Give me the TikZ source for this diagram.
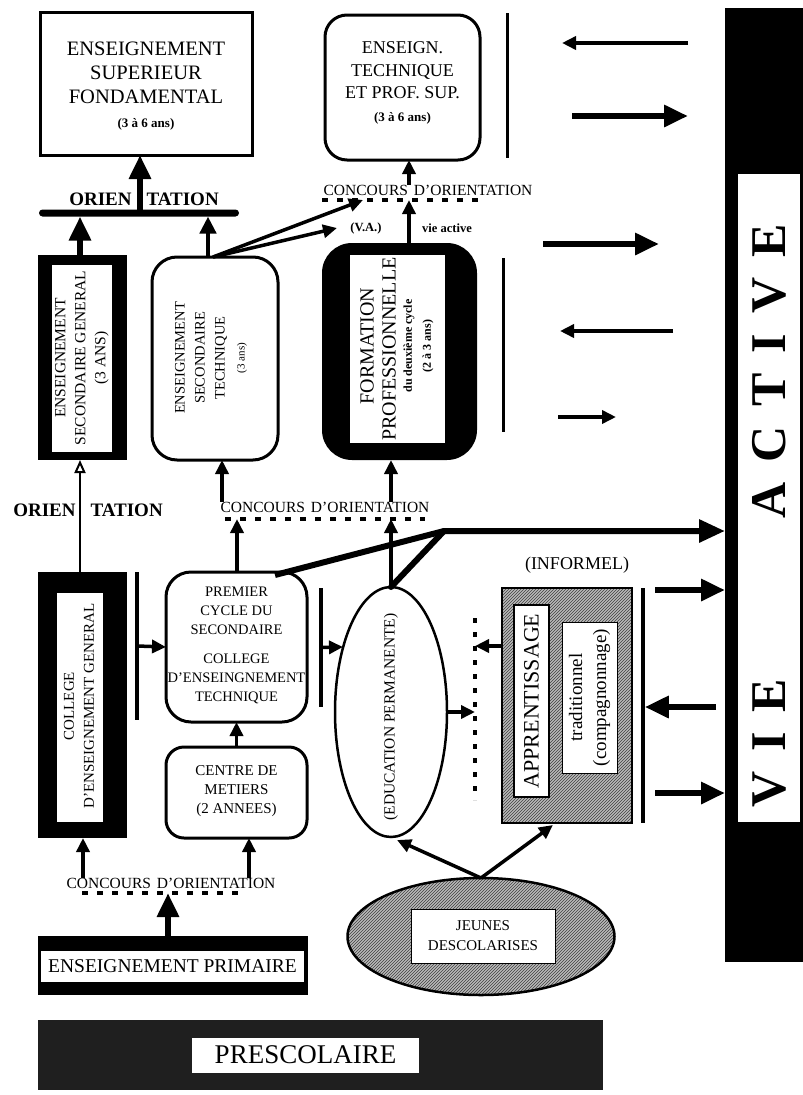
\documentclass[tikz,border=0pt]{standalone}
\usepackage{fontspec}
\setmainfont{Liberation Serif}
\usetikzlibrary{arrows.meta,shapes.geometric,patterns}
\begin{document}
\begin{tikzpicture}[x=1pt,y=-1pt,
  txt/.style={align=center,inner sep=0pt},
  sz/.style 2 args={minimum width=#1pt,minimum height=#2pt,inner sep=0pt,outer sep=0pt},
  ar/.style={line width=3.5pt,-{Triangle[length=14pt,width=13pt]}},
  mar/.style={line width=4.5pt,-{Triangle[length=17pt,width=16pt]}},
  tar/.style={line width=6.5pt,-{Triangle[length=24pt,width=21pt]}},
  oar/.style={line width=2pt,-{Triangle[open,length=13pt,width=11pt,line width=2pt]}},
  dsh/.style={line width=3.5pt,dash pattern=on 6pt off 9pt},
  vline/.style={fill=black},
  rbox/.style={draw,line width=3pt,rounded corners=#1},
  hatch/.style={preaction={fill=gray!55},pattern=north east lines,pattern color=black!75},
  big/.style={font=\fontsize{20.5}{24}\selectfont},
  mid/.style={font=\fontsize{15}{19}\selectfont},
  conc/.style={font=\fontsize{15.5}{18}\selectfont},
  orient/.style={font=\fontsize{19}{22}\selectfont\bfseries}
]
\useasboundingbox (0,0) rectangle (803,1095);
% helper x-positions
\coordinate (x80) at (80,0);
\coordinate (x83) at (83,0);
\coordinate (x140) at (140,0);
\coordinate (x168) at (168,0);
\coordinate (x208) at (208,0);
\coordinate (x222) at (222,0);
\coordinate (x237) at (237,0);
\coordinate (x249) at (249,0);
\coordinate (x391) at (391,0);
\coordinate (x409) at (409,0);

% ---------- top left box
\node[draw,line width=3pt,sz={212}{143}] (tl) at (146,83.5) {};
\node[txt,big] (tlt) at (146,86) {ENSEIGNEMENT\\SUPERIEUR\\FONDAMENTAL\\{\fontsize{13}{20}\selectfont\bfseries (3 à 6 ans)}};

% ORIENTATION bar (top)
\node[txt,orient] (or1) at (144,199) {ORIEN\hspace{15pt}TATION};
\node[vline,sz={200}{7},rounded corners=3.5pt] (ob) at (139,213) {};
\draw[tar] (ob.north -| x140) -- (tl.south -| x140);

% ---------- top centre box
\node[rbox=22pt,sz={155}{145}] (tc) at (402.5,87.5) {};
\node[txt,font=\fontsize{18}{22.5}\selectfont] (tct) at (402.5,83) {ENSEIGN.\\TECHNIQUE\\ET PROF. SUP.\\{\fontsize{13}{22}\selectfont\bfseries (3 à 6 ans)}};
\node[vline,sz={3}{145}] (vl1) at (507,85.5) {};

% concours top
\node[txt,conc] (ct) at (428,190) {CONCOURS\hspace{6pt}D'ORIENTATION};
\coordinate (cd1) at (322,200);
\coordinate (cd2) at (478,200);
\draw[dsh] (cd1) -- (cd2);
\draw[ar] (ct.north -| x409) -- (tc.south -| x409);
\node[txt,font=\fontsize{12.5}{15}\selectfont\bfseries] (vat1) at (366,228) {(V.A.)};
\node[txt,font=\fontsize{12.5}{15}\selectfont\bfseries] (vat2) at (447,228) {vie active};

% ---------- ESG
\node[vline,sz={89}{205}] (esg) at (82.5,357.5) {};
\node[fill=white,sz={60}{187}] (esgw) at (82,358.5) {};
\node[txt,rotate=90,font=\fontsize{15.5}{20}\selectfont] (esgt) at (82,358) {ENSEIGNEMENT\\SECONDAIRE GENERAL\\(3 ANS)};
\draw[tar] (esg.north -| x80) -- (ob.south -| x80);

% ---------- EST
\node[rbox=25pt,sz={126}{203}] (est) at (215,358.5) {};
\node[txt,rotate=90,font=\fontsize{14.5}{20}\selectfont] (estt) at (211,358) {ENSEIGNEMENT\\SECONDAIRE\\TECHNIQUE\\{\fontsize{11}{18}\selectfont (3 ans)}};
\draw[mar] (est.north -| x208) -- (ob.south -| x208);
\coordinate (estc) at (213,257);
\coordinate (vaTip1) at (363,200);
\coordinate (vaTip2) at (337,228);
\draw[ar] (estc) -- (vaTip1);
\draw[ar] (estc) -- (vaTip2);

% ---------- Formation professionnelle
\node[vline,rounded corners=30pt,sz={155}{217}] (fp) at (399.5,351.5) {};
\node[fill=white,sz={95}{188}] (fpw) at (397.5,349) {};
\node[rotate=90,inner sep=0pt,font=\fontsize{20}{20}\selectfont] (fpt1) at (367,346) {FORMATION};
\node[rotate=90,inner sep=0pt,font=\fontsize{20}{20}\selectfont] (fpt2) at (389,349) {PROFESSIONNELLE};
\node[rotate=90,inner sep=0pt,font=\fontsize{12}{12}\selectfont\bfseries] (fpt3) at (409,346) {du deuxième cycle};
\node[rotate=90,inner sep=0pt,font=\fontsize{12}{12}\selectfont\bfseries] (fpt4) at (428,346) {(2 à 3 ans)};
\node[vline,sz={3}{174}] (vl2) at (503,345) {};
\draw[ar] (fp.north -| x409) -- (cd1 -| x409);

% ---------- arrows towards VIE ACTIVE (upper)
\coordinate (a1s) at (688,43);  \coordinate (a1e) at (562,43);
\coordinate (a2s) at (572,116); \coordinate (a2e) at (688,116);
\coordinate (a3s) at (543,244); \coordinate (a3e) at (659,244);
\coordinate (a4s) at (673,331); \coordinate (a4e) at (560,331);
\coordinate (a5s) at (558,417); \coordinate (a5e) at (616,417);
\draw[ar] (a1s) -- (a1e);
\draw[tar] (a2s) -- (a2e);
\draw[tar] (a3s) -- (a3e);
\draw[ar] (a4s) -- (a4e);
\draw[ar] (a5s) -- (a5e);

% ---------- VIE ACTIVE bar
\node[vline,sz={78}{954}] (vab) at (764,485) {};
\node[fill=white,sz={62}{648}] (vaw) at (769,498) {};
\node[rotate=90,inner sep=0pt,font=\fontsize{50}{50}\selectfont\bfseries] (vat) at (769.5,516) {V\hspace{20pt}I\hspace{20pt}E\hspace{160pt}A\hspace{20pt}C\hspace{20pt}T\hspace{20pt}I\hspace{20pt}V\hspace{20pt}E};

% ---------- middle concours + orientation
\node[txt,orient] (or2) at (88,510) {ORIEN\hspace{15pt}TATION};
\node[txt,conc] (cm2) at (325,507) {CONCOURS\hspace{6pt}D'ORIENTATION};
\coordinate (md1) at (225,519);
\coordinate (md2) at (425,519);
\draw[dsh] (md1) -- (md2);

% ---------- College d'enseignement general
\node[vline,sz={89}{266}] (ceg) at (82.5,705) {};
\node[fill=white,sz={46}{229}] (cegw) at (80,707.5) {};
\node[txt,rotate=90,font=\fontsize{15}{20}\selectfont] (cegt) at (79,706) {COLLEGE\\D'ENSEIGNEMENT GENERAL};
\draw[oar] (ceg.north -| x80) -- (esg.south -| x80);

% ---------- Premier cycle
\node[vline,sz={3.5}{148}] (ll) at (137,646) {};
\node[rbox=25pt,sz={141}{150}] (pc) at (236.5,647) {};
\node[txt,font=\fontsize{14.5}{19}\selectfont] (pct) at (236.5,645) {PREMIER\\CYCLE DU\\SECONDAIRE\\[10pt]COLLEGE\\D'ENSEINGNEMENT\\TECHNIQUE};
\draw[ar] (ll.center) -- (pc.west);
\draw[ar] (pc.north -| x237) -- (md1 -| x237);
\draw[ar] (cm2.north -| x222) -- (est.south -| x222);

% ---------- Centre de metiers
\node[rbox=18pt,sz={141}{91}] (cm) at (236.5,792.5) {};
\node[txt,mid] (cmt) at (236.5,791) {CENTRE DE\\METIERS\\(2 ANNEES)};
\draw[ar] (cm.north) -- (pc.south);

% ---------- Education permanente
\node[vline,sz={3.5}{119}] (rl) at (321,647.5) {};
\node[draw,ellipse,line width=2.5pt,sz={112}{250}] (ep) at (391,712) {};
\node[txt,rotate=90,font=\fontsize{15.5}{17}\selectfont] (ept) at (391,717) {(EDUCATION PERMANENTE)};
\coordinate (epl) at (343,647);
\draw[ar] (rl.center) -- (epl);
\draw[ar] (ep.north) -- (md1 -| x391);
\draw[ar] (cm2.north -| x391) -- (fp.south -| x391);

% long thick arrow to VIE ACTIVE
\coordinate (pcc) at (275,575);
\coordinate (jn) at (444,531);
\draw[line width=6pt,line join=round,-{Triangle[length=26pt,width=22pt]}] (pcc) -- (jn) -- (vab.west |- jn);
\draw[line width=6pt,line cap=round] (ep.north) -- (jn);

% dotted separator
\coordinate (dt1) at (475,618);
\coordinate (dt2) at (475,800);
\draw[line width=4.5pt,dash pattern=on 5pt off 9pt] (dt1) -- (dt2);
\draw[ar] (ep.east) -- (dt1 |- ep.east);

% ---------- Apprentissage
\node[txt,font=\fontsize{18}{20}\selectfont] (inf) at (577,565) {(INFORMEL)};
\node[draw,line width=2.5pt,hatch,sz={130}{235}] (ap) at (567,705.5) {};
\node[draw,line width=1.5pt,fill=white,sz={35}{192}] (ap1) at (531.5,701) {};
\node[txt,rotate=90,font=\fontsize{22}{24}\selectfont] (ap1t) at (ap1) {APPRENTISSAGE};
\node[draw,line width=1pt,fill=white,sz={55}{151}] (ap2) at (589.5,697.5) {};
\node[txt,rotate=90,font=\fontsize{19}{24}\selectfont] (ap2t) at (ap2) {traditionnel\\(compagnonnage)};
\draw[ar] (ap.west |- ll.center) -- (dt1 |- ll.center);
\node[vline,sz={3.5}{235}] (rl2) at (643,705.5) {};
\coordinate (b1s) at (655,590);
\coordinate (b2s) at (716,707);
\coordinate (b3s) at (655,793);
\draw[tar] (b1s) -- (vab.west |- b1s);
\draw[tar] (b2s) -- (rl2.east |- b2s);
\draw[tar] (b3s) -- (vab.west |- b3s);

% ---------- Jeunes descolarises
\node[draw,ellipse,line width=2.5pt,hatch,sz={267}{117}] (jd) at (481,936.5) {};
\node[draw,fill=white,line width=1pt,sz={144}{54}] (jdw) at (483,936) {};
\node[txt,font=\fontsize{15}{20}\selectfont] (jdt) at (jdw) {JEUNES\\DESCOLARISES};
\coordinate (epb) at (397,840);
\coordinate (apb) at (553,825);
\draw[ar] (jd.north) -- (epb);
\draw[ar] (jd.north) -- (apb);

% ---------- bottom concours, primaire, prescolaire
\node[txt,conc] (cb) at (171,883) {CONCOURS\hspace{6pt}D'ORIENTATION};
\coordinate (bd1) at (82,893);
\coordinate (bd2) at (242,893);
\draw[dsh] (bd1) -- (bd2);
\draw[ar] (cb.north -| x83) -- (ceg.south -| x83);
\draw[ar] (cb.north -| x249) -- (cm.south -| x249);

\node[vline,sz={270}{59}] (pr) at (173,965.5) {};
\node[fill=white,sz={263}{31}] (prw) at (172.5,966.5) {};
\node[txt,font=\fontsize{19.5}{22}\selectfont] (prt) at (prw) {ENSEIGNEMENT PRIMAIRE};
\draw[tar] (pr.north -| x168) -- (bd1 -| x168);

\node[fill=black!88,sz={565}{70}] (ps) at (320.5,1055) {};
\node[fill=white,sz={227}{35}] (psw) at (305.5,1055) {};
\node[txt,font=\fontsize{27}{30}\selectfont] (pst) at (psw) {PRESCOLAIRE};
\end{tikzpicture}
\end{document}
